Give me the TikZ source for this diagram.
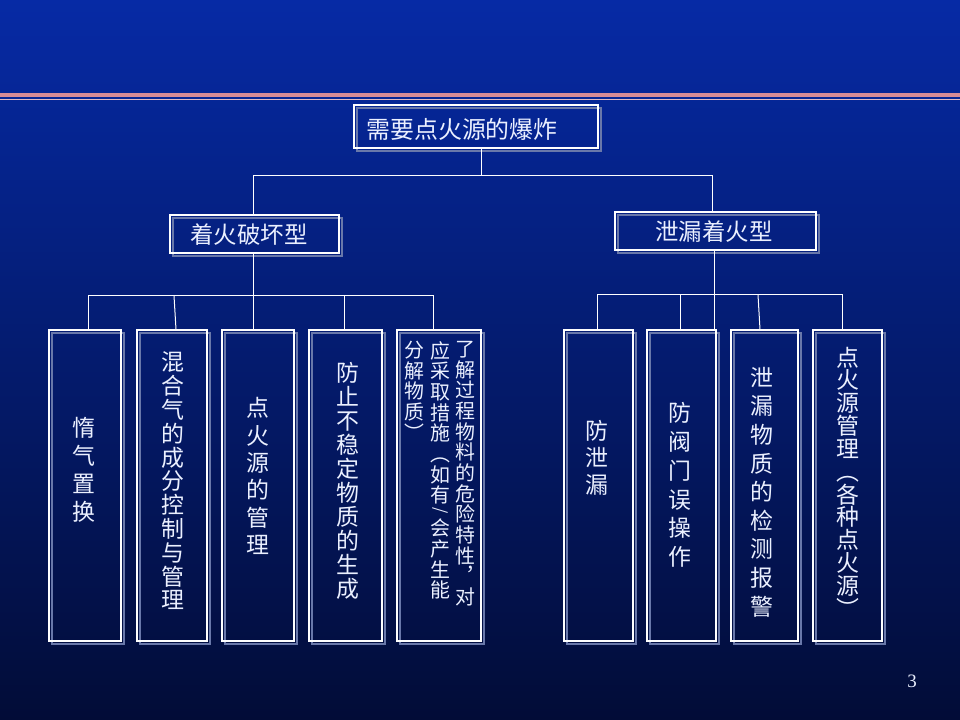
\documentclass[tikz,border=0pt]{standalone}
\usepackage{graphicx}
\usepackage{fontspec}
\setmainfont{Liberation Serif}
\newfontfamily\cjk{Noto Sans CJK SC}
\usetikzlibrary{shadows,calc}
\definecolor{bgtop}{RGB}{6,42,165}
\definecolor{bgmid}{RGB}{8,32,128}
\definecolor{bgbot}{RGB}{2,12,55}
\definecolor{rulepink}{RGB}{215,140,150}
\definecolor{rulelight}{RGB}{225,185,195}
\definecolor{shadowgray}{RGB}{105,120,170}
\definecolor{txt}{RGB}{235,240,255}
\begin{document}
\begin{tikzpicture}[x=1bp,y=-1bp,
  box/.style={draw=white, line width=1.2bp, inner sep=0pt,
    general shadow={shadow xshift=3bp, shadow yshift=-3bp, draw=shadowgray, line width=1.6bp}},
  conn/.style={draw=white, line width=1bp},
  lbl/.style={text=txt, inner sep=0pt, align=center}]
\shade[top color=bgtop, middle color=bgmid, bottom color=bgbot] (0,0) rectangle (960,720);
\useasboundingbox (0,0) rectangle (960,720);
% top rule
\fill[rulepink] (0,93.5) rectangle (960,97.5);
\draw[rulelight, line width=1bp] (0,99.5) -- (960,99.5);
% boxes
\node[box, minimum width=244bp, minimum height=43bp] (top) at (476,126.5) {};
\node[box, minimum width=169bp, minimum height=38bp] (midL) at (254.5,234) {};
\node[box, minimum width=201bp, minimum height=38bp] (midR) at (715.5,231) {};
\node[box, minimum width=72bp, minimum height=311bp] (b1) at (85,485.5) {};
\node[box, minimum width=70bp, minimum height=311bp] (b2) at (172,485.5) {};
\node[box, minimum width=72bp, minimum height=311bp] (b3) at (258,485.5) {};
\node[box, minimum width=73bp, minimum height=311bp] (b4) at (345.5,485.5) {};
\node[box, minimum width=84bp, minimum height=311bp] (b5) at (439,485.5) {};
\node[box, minimum width=69bp, minimum height=311bp] (b6) at (598.5,485.5) {};
\node[box, minimum width=69bp, minimum height=311bp] (b7) at (681.5,485.5) {};
\node[box, minimum width=67bp, minimum height=311bp] (b8) at (764.5,485.5) {};
\node[box, minimum width=69bp, minimum height=311bp] (b9) at (847.5,485.5) {};
% labels
\node[lbl, font=\cjk\fontsize{24}{24}\selectfont] (ttop) at (462,129) {需要点火源的爆炸};
\node[lbl, font=\cjk\fontsize{23.5}{24}\selectfont] (tmidL) at (249,235) {着火破坏型};
\node[lbl, font=\cjk\fontsize{23.5}{24}\selectfont] (tmidR) at (714,232) {泄漏着火型};
\node[lbl, font=\cjk\fontsize{23}{28}\selectfont] (t1) at (84,470) {惰\\气\\置\\换};
\node[lbl, font=\cjk\fontsize{23}{23.9}\selectfont] (t2) at (173,481) {混\\合\\气\\的\\成\\分\\控\\制\\与\\管\\理};
\node[lbl, font=\cjk\fontsize{23}{27.4}\selectfont] (t3) at (258,476) {点\\火\\源\\的\\管\\理};
\node[lbl, font=\cjk\fontsize{23}{24.1}\selectfont] (t4) at (348,481) {防\\止\\不\\稳\\定\\物\\质\\的\\生\\成};
\node[lbl, font=\cjk\fontsize{20}{20.75}\selectfont, anchor=north] (c1) at (465,341) {了\\解\\过\\程\\物\\料\\的\\危\\险\\特\\性\\︐\\对};
\node[lbl, font=\cjk\fontsize{20}{20.75}\selectfont, anchor=north] (c2a) at (440,341) {应\\采\\取\\措\\施\\︵\\如\\有};
\node[lbl, font=\cjk\fontsize{16}{16}\selectfont] (c2s) at (440,512) {\rotatebox[origin=c]{-90}{/}};
\node[lbl, font=\cjk\fontsize{20}{20.75}\selectfont, anchor=north] (c2b) at (440,519) {会\\产\\生\\能};
\node[lbl, font=\cjk\fontsize{20}{20.75}\selectfont, anchor=north] (c3) at (414,341) {分\\解\\物\\质\\︶};
\node[lbl, font=\cjk\fontsize{23}{27}\selectfont] (t6) at (597,458) {防\\泄\\漏};
\node[lbl, font=\cjk\fontsize{23}{28.8}\selectfont] (t7) at (680,485) {防\\阀\\门\\误\\操\\作};
\node[lbl, font=\cjk\fontsize{23}{28.75}\selectfont] (t8) at (762,492) {泄\\漏\\物\\质\\的\\检\\测\\报\\警};
\node[lbl, font=\cjk\fontsize{23}{22.9}\selectfont] (t9) at (848,482) {点\\火\\源\\管\\理\\︵\\各\\种\\点\\火\\源\\︶};
\node[lbl, font=\fontsize{19}{19}\selectfont] (pg) at (912,681) {3};
% connectors
\draw[conn] ([xshift=5bp]top.south) -- ++(0,27) coordinate (j0);
\draw[conn] ([xshift=-1.5bp]midL.north) |- (j0) -| ([xshift=-3bp]midR.north);
\draw[conn] ([xshift=-1.5bp]midL.south) -- ++(0,42) coordinate (jL);
\draw[conn] ([xshift=3bp]b1.north) |- (jL) -| ([xshift=-6bp]b5.north);
\draw[conn] (jL) -- (jL |- b3.north);
\draw[conn] ([xshift=2bp]b2.north |- jL) -- ([xshift=4bp]b2.north);
\draw[conn] ([xshift=-1.5bp]b4.north |- jL) -- ([xshift=-1.5bp]b4.north);
\draw[conn] ([xshift=-1.5bp]midR.south) -- ++(0,44) coordinate (jR);
\draw[conn] ([xshift=-1.5bp]b6.north) |- (jR) -| ([xshift=-5.5bp]b9.north);
\draw[conn] (jR) -- (jR |- b7.north);
\draw[conn] ([xshift=-1.5bp]b7.north |- jR) -- ([xshift=-1.5bp]b7.north);
\draw[conn] ([xshift=-6.5bp]b8.north |- jR) -- ([xshift=-4.5bp]b8.north);
\end{tikzpicture}
\end{document}
